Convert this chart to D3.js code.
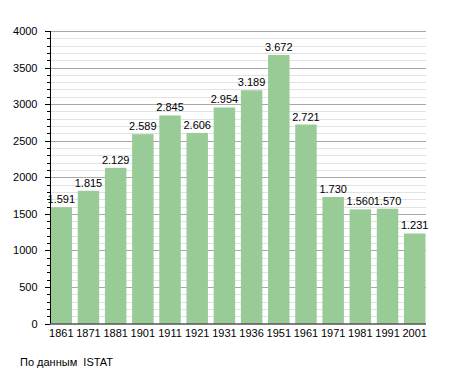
<!DOCTYPE html>
<html>
<head>
<meta charset="utf-8">
<script src="https://cdn.jsdelivr.net/npm/d3@7"></script>
<style>
  body { margin: 0; background: #fff; }
  svg text { font-family: "Liberation Sans", Arial, sans-serif; fill: #000; }
</style>
</head>
<body>
<div id="chart"></div>
<script>
// Population by census year
const years = ["1861", "1871", "1881", "1901", "1911", "1921", "1931", "1936", "1951", "1961", "1971", "1981", "1991", "2001"];
const population = [1591, 1815, 2129, 2589, 2845, 2606, 2954, 3189, 3672, 2721, 1730, 1560, 1570, 1231];
const yTicks = [0, 500, 1000, 1500, 2000, 2500, 3000, 3500, 4000];
const sourceNote = "По данным  ISTAT";

const width = 455, height = 373;
const plot = {left: 50, right: 426, top: 31, bottom: 323.5};

const svg = d3.select("#chart").append("svg")
    .attr("width", width)
    .attr("height", height);

const x = d3.scaleBand()
  .domain(years)
  .range([plot.left, plot.right])
  .paddingInner(0.21)
  .paddingOuter(0.02);

const y = d3.scaleLinear()
  .domain([0, 4000])
  .range([plot.bottom, plot.top]);

// minor gridlines every 100
svg.append("g")
  .selectAll("line")
  .data(d3.range(100, 4001, 100).filter(v => v % 500 !== 0))
  .enter().append("line")
    .attr("x1", plot.left).attr("x2", plot.right)
    .attr("y1", d => Math.round(y(d)) + 0.5).attr("y2", d => Math.round(y(d)) + 0.5)
    .style("stroke", "#e2e2e2");

// major gridlines
svg.append("g")
  .selectAll("line")
  .data(yTicks.filter(v => v > 0))
  .enter().append("line")
    .attr("x1", plot.left).attr("x2", plot.right)
    .attr("y1", d => Math.round(y(d)) + 0.5).attr("y2", d => Math.round(y(d)) + 0.5)
    .style("stroke", "#a8a8a8");

// bars
svg.append("g")
  .selectAll("rect")
  .data(population)
  .enter().append("rect")
    .attr("x", (d, i) => x(years[i]))
    .attr("y", d => y(d))
    .attr("width", x.bandwidth())
    .attr("height", d => y(0) - y(d))
    .style("fill", "#98cb96");

// value labels
svg.append("g")
  .selectAll("text")
  .data(population)
  .enter().append("text")
    .attr("x", (d, i) => x(years[i]) + x.bandwidth() / 2)
    .attr("y", d => y(d) - 4)
    .style("text-anchor", "middle")
    .style("font-size", "11px")
    .text(d => d3.format(",")(d).replace(",", "."));

// y axis minor ticks
svg.append("g")
  .selectAll("line")
  .data(d3.range(0, 4001, 100))
  .enter().append("line")
    .attr("x1", d => d % 500 === 0 ? plot.left - 5 : plot.left - 3)
    .attr("x2", plot.left)
    .attr("y1", d => Math.round(y(d)) + 0.5).attr("y2", d => Math.round(y(d)) + 0.5)
    .style("stroke", "#000");

// y axis
const yAxis = svg.append("g")
  .attr("transform", `translate(${plot.left + 0.5},0)`)
  .call(d3.axisLeft(y).tickValues(yTicks).tickSize(5).tickFormat(d3.format("d")));
yAxis.select(".domain").attr("d", `M0,${plot.top}V${plot.bottom}`).style("stroke", "#000");
yAxis.selectAll(".tick line").remove();
yAxis.selectAll(".tick text")
  .attr("x", -13)
  .style("font-size", "11px")
  .style("font-family", "Liberation Sans, Arial, sans-serif");

// x axis
const xAxis = svg.append("g")
  .attr("transform", `translate(0,${plot.bottom + 0.5})`)
  .call(d3.axisBottom(x).tickSize(0).tickPadding(5));
xAxis.select(".domain").attr("d", `M${plot.left},0H${plot.right}`).style("stroke", "#000");
xAxis.selectAll(".tick text")
  .style("font-size", "11px")
  .style("font-family", "Liberation Sans, Arial, sans-serif");

// source note
svg.append("text")
  .attr("x", 20)
  .attr("y", 366)
  .style("font-size", "11px")
  .style("white-space", "pre")
  .text(sourceNote);
</script>
</body>
</html>
